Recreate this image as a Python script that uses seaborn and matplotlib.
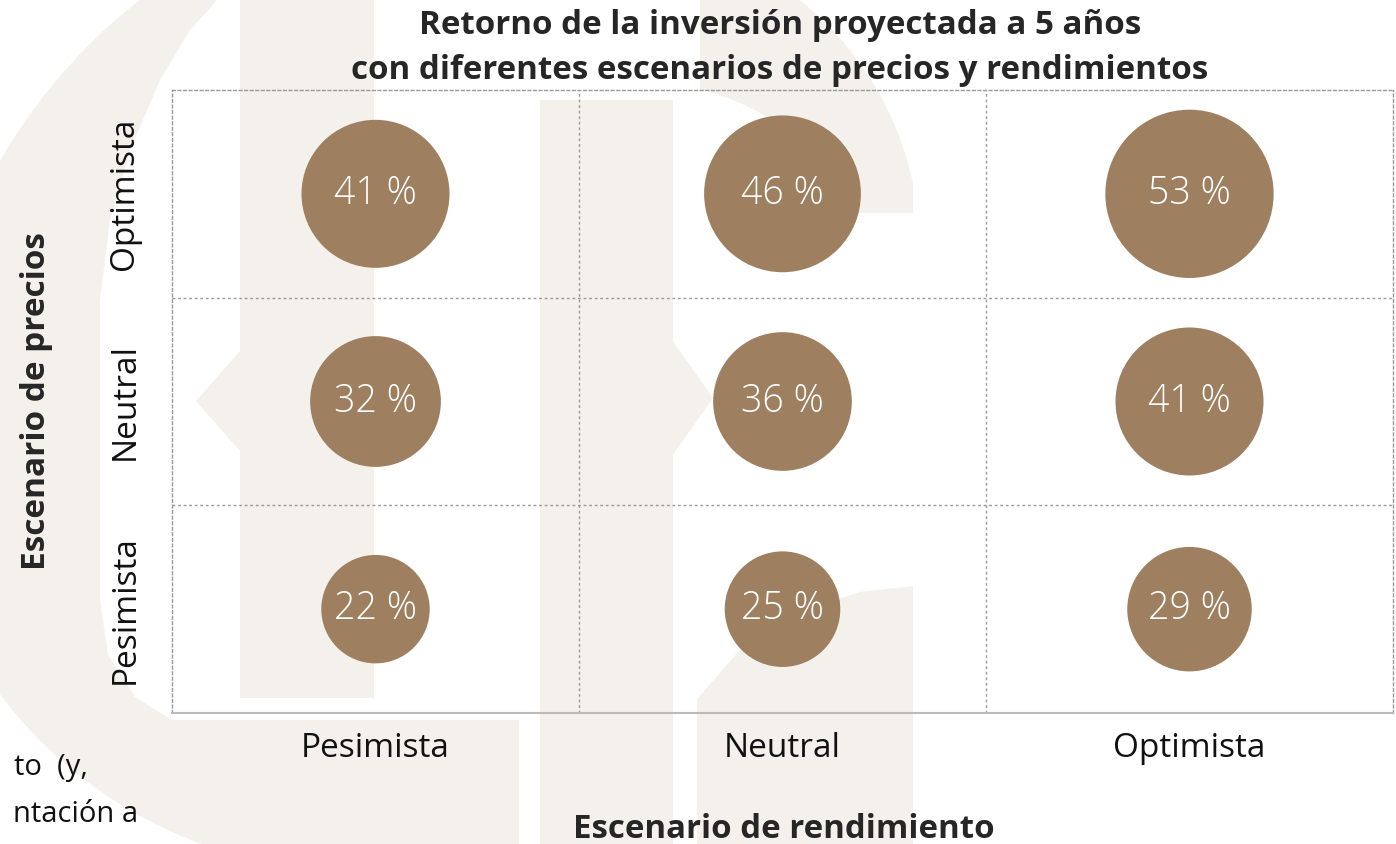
import matplotlib
matplotlib.use('Agg')
from matplotlib import pyplot as plt
from matplotlib.patches import Rectangle, Circle, Polygon
import pandas as pd
import seaborn as sns

# Data: return on investment (%) for each price / yield scenario
escenarios = ['Pesimista', 'Neutral', 'Optimista']
retorno_pesimista = [22, 25, 29]   # precios pesimista, by rendimiento
retorno_neutral = [32, 36, 41]
retorno_optimista = [41, 46, 53]

rows = []
for precio, valores in zip(escenarios, [retorno_pesimista, retorno_neutral, retorno_optimista]):
    for rend, v in zip(escenarios, valores):
        rows.append({'rendimiento': rend, 'precio': precio, 'retorno': v})
df = pd.DataFrame(rows)

sns.set_style('white')
plt.rcParams['font.family'] = ['Open Sans', 'DejaVu Sans']

W, H = 1396, 844
fig = plt.figure(figsize=(W / 100, H / 100), dpi=100)
fig.patch.set_facecolor('white')

# faint watermark in the page background (pixel coords, y down)
beige = '#F4F1EC'
tr = fig.dpi_scale_trans


def P(x, y):
    return (x / 100, (H - y) / 100)


def add_bg(p, z, clip=None, color=beige):
    p.set_facecolor(color)
    p.set_edgecolor('none')
    p.set_zorder(z - 10)  # keep everything below the axes
    fig.add_artist(p)
    if clip is not None:
        x0, y0, x1, y1 = clip
        p.set_clip_path(Rectangle(P(x0, y1), (x1 - x0) / 100, (y1 - y0) / 100, transform=tr))


# left letter: outer arc, bottom bar, white hole
add_bg(Circle(P(487, 443), 5.63, transform=tr), 0.0, clip=(0, 0, 218, 443))
add_bg(Circle(P(354, 428), 4.43, transform=tr), 0.0, clip=(0, 443, 218, 844))
add_bg(Rectangle(P(218, 844), 3.01, 1.24, transform=tr), 0.0)
add_bg(Polygon([P(218, -1), P(190, 30), P(160, 80), P(130, 150), P(110, 220), P(100, 300),
                P(100, 600), P(108, 655), P(135, 697), P(172, 720), P(219, 720), P(219, -1)],
               transform=tr), 0.1, color='white')
add_bg(Rectangle(P(240, 698), 1.34, 6.98, transform=tr), 0.2)
add_bg(Polygon([P(196, 401), P(241, 350), P(241, 452)], transform=tr), 0.2)
# right letter: stem with notch, upper and lower bowls
add_bg(Rectangle(P(540, 844), 1.33, 7.44, transform=tr), 0.2)
add_bg(Polygon([P(672, 340), P(713, 398), P(672, 456)], transform=tr), 0.2)
add_bg(Circle(P(600, 250), 3.2, transform=tr), 0.2, clip=(700, 0, 913, 213))
add_bg(Circle(P(640, 330), 2.48, transform=tr), 0.3, clip=(700, 0, 913, 213), color='white')
add_bg(Polygon([P(697, 699), P(740, 650), P(800, 612), P(860, 592), P(913, 586), P(913, 844), P(697, 844)],
               transform=tr), 0.2)

ax = fig.add_axes([172 / W, 1 - 713 / H, (1393 - 172) / W, (713 - 90) / H])
ax.patch.set_alpha(0)

smin, smax = min(df['retorno']), max(df['retorno'])
sns.scatterplot(data=df, x='rendimiento', y='precio', size='retorno',
                sizes=(277 * smin, 277 * smax), size_norm=(smin, smax),
                color='#9E7F5F', edgecolor='none', legend=False, ax=ax, zorder=3)

for _, r in df.iterrows():
    ax.text(escenarios.index(r['rendimiento']), escenarios.index(r['precio']),
            f"{r['retorno']} %", color='white', fontsize=27, fontweight=300,
            ha='center', va='center', zorder=4)

ax.set_xlim(-0.5, 2.5)
ax.set_ylim(-0.5, 2.5)
for k in [0.5, 1.5]:
    ax.axvline(k, color='#999999', lw=1, ls=(0, (2, 2)), zorder=1)
    ax.axhline(k, color='#999999', lw=1, ls=(0, (2, 2)), zorder=1)
for s in ['left', 'top', 'right']:
    ax.spines[s].set_color('#999999')
    ax.spines[s].set_linewidth(1)
    ax.spines[s].set_linestyle((0, (2, 2)))
ax.spines['bottom'].set_color('#BBBBBB')
ax.spines['bottom'].set_linewidth(1.5)

ax.set_xticks(range(3))
ax.set_xticklabels(escenarios, fontsize=24, color='#111111')
ax.set_yticks(range(3))
ax.set_yticklabels(escenarios, fontsize=24, color='#111111', rotation=90, va='center')
ax.tick_params(axis='x', length=0, pad=14)
ax.tick_params(axis='y', length=0, pad=22)

ax.set_xlabel('Escenario de rendimiento', fontsize=23.8, fontweight='bold')
ax.xaxis.set_label_coords((784 - 172) / 1221, -(830 - 713) / 623)
ax.xaxis.label.set_va('center')
ax.set_ylabel('Escenario de precios', fontsize=24, fontweight='bold')
ax.yaxis.set_label_coords(-(172 - 37) / 1221, 0.5)
ax.yaxis.label.set_va('center')

fig.text(780 / W, 1 - 48 / H, 'Retorno de la inversión proyectada a 5 años\ncon diferentes escenarios de precios y rendimientos',
         ha='center', va='center', fontsize=23.9, fontweight='bold', linespacing=1.5)

# cut-off page text at the bottom left
fig.text(88 / W, 1 - 768 / H, 'to  (y,', ha='right', va='center', fontsize=21, color='#111111')
fig.text(138 / W, 1 - 814 / H, 'ntación a', ha='right', va='center', fontsize=21, color='#111111')

fig.savefig('out.png', dpi=100)
